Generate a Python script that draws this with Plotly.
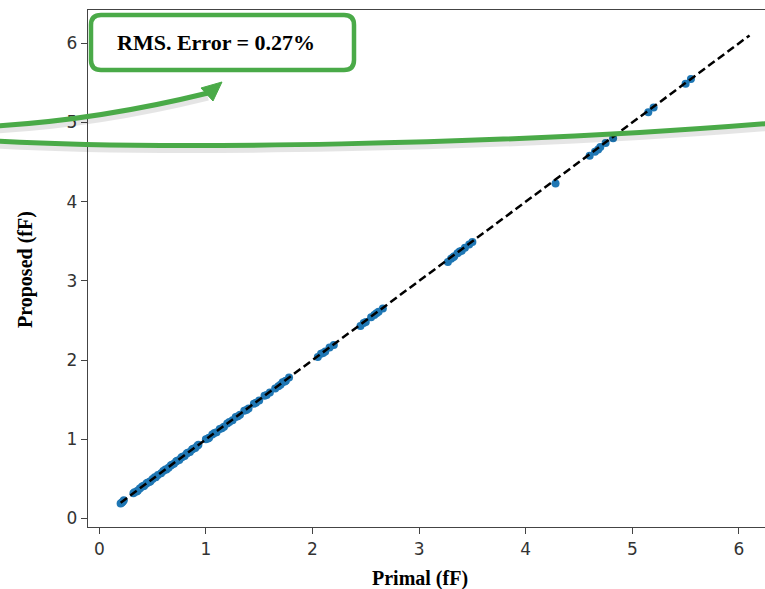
import plotly.graph_objects as go

# ---- data ----
primal = [0.20, 0.21, 0.22, 0.23, 0.32, 0.33, 0.35, 0.36, 0.38, 0.40, 0.41, 0.42,
          0.44, 0.45, 0.47, 0.48, 0.50, 0.52, 0.53, 0.55, 0.58, 0.60, 0.62, 0.63,
          0.65, 0.67, 0.68, 0.70, 0.72, 0.73, 0.75, 0.77, 0.78, 0.80, 0.82, 0.83,
          0.85, 0.87, 0.88, 0.90, 0.92, 0.93, 1.00, 1.02, 1.03, 1.06, 1.08, 1.10,
          1.13, 1.15, 1.17, 1.20, 1.22, 1.25, 1.28, 1.30, 1.32, 1.36, 1.38, 1.40,
          1.45, 1.47, 1.50, 1.55, 1.57, 1.60, 1.65, 1.68, 1.70, 1.72, 1.74, 1.75,
          1.78, 2.05, 2.08, 2.10, 2.12, 2.16, 2.20, 2.45, 2.48, 2.50, 2.55, 2.58,
          2.60, 2.62, 2.66, 3.27, 3.30, 3.32, 3.33, 3.36, 3.38, 3.40, 3.43, 3.47,
          3.50, 4.28, 4.60, 4.65, 4.68, 4.70, 4.75, 4.82, 5.15, 5.20, 5.50, 5.55]
proposed = [0.19, 0.20, 0.21, 0.23, 0.32, 0.33, 0.34, 0.35, 0.38, 0.40, 0.41, 0.41,
            0.44, 0.45, 0.46, 0.47, 0.50, 0.52, 0.52, 0.55, 0.57, 0.60, 0.62, 0.62,
            0.64, 0.67, 0.68, 0.69, 0.72, 0.73, 0.74, 0.77, 0.78, 0.79, 0.82, 0.83,
            0.84, 0.87, 0.88, 0.89, 0.92, 0.93, 1.00, 1.01, 1.02, 1.06, 1.08, 1.09,
            1.13, 1.14, 1.16, 1.20, 1.22, 1.24, 1.28, 1.29, 1.31, 1.36, 1.37, 1.39,
            1.45, 1.46, 1.49, 1.55, 1.56, 1.59, 1.64, 1.67, 1.69, 1.72, 1.73, 1.74,
            1.78, 2.04, 2.08, 2.09, 2.11, 2.16, 2.19, 2.43, 2.47, 2.48, 2.54, 2.57,
            2.59, 2.61, 2.65, 3.24, 3.28, 3.30, 3.31, 3.35, 3.37, 3.38, 3.42, 3.46,
            3.49, 4.23, 4.58, 4.63, 4.66, 4.69, 4.74, 4.80, 5.13, 5.19, 5.49, 5.55]
ref_x = [0.2, 6.1]
ref_y = [0.2, 6.1]
x_ticks = [0, 1, 2, 3, 4, 5, 6]
y_ticks = [0, 1, 2, 3, 4, 5, 6]
x_title = "Primal (fF)"
y_title = "Proposed (fF)"
note_text = "RMS. Error = 0.27%"

# the original figure is wider than the visible window; its right edge is cropped
W, H = 781, 589
L, R, T, B = 88, 781, 10, 527   # plot area in pixels

def P(px, py):
    return (px - L) / (R - L), (B - py) / (B - T)

def path(cmds):
    out = []
    for c in cmds:
        if isinstance(c, str):
            out.append(c)
        else:
            x, y = P(*c)
            out.append(f"{x:.5f},{y:.5f}")
    return " ".join(out)

fig = go.Figure()
fig.add_trace(go.Scatter(x=primal, y=proposed, mode="markers",
                         marker=dict(color="#1f77b4", size=8, line=dict(width=0)),
                         showlegend=False))
fig.add_trace(go.Scatter(x=ref_x, y=ref_y, mode="lines",
                         line=dict(color="black", width=2.5, dash="8px,4px"),
                         showlegend=False))

green = "#4aaa48"
shadow = "rgba(0,0,0,0.10)"
shapes = []

# shadow + big curve
big = [(-5, 141), (150, 150), (500, 146), (785, 122)]
def curve(pts, dy=0):
    p = [(x, y + dy) for x, y in pts]
    return path(["M", p[0], "C", p[1], p[2], p[3]])
shapes.append(dict(type="path", xref="paper", yref="paper", path=curve(big, 4),
                   line=dict(color=shadow, width=7)))
shapes.append(dict(type="path", xref="paper", yref="paper", path=curve(big),
                   line=dict(color=green, width=5)))

# arrow
arrow_pts = [(-5, 126), (98, 120), (208, 93)]
for dy, col, w in [(4, shadow, 7), (0, green, 5)]:
    p = [(x, y + dy) for x, y in arrow_pts]
    shapes.append(dict(type="path", xref="paper", yref="paper",
                       path=path(["M", p[0], "Q", p[1], p[2]]),
                       line=dict(color=col, width=w)))
shapes.append(dict(type="path", xref="paper", yref="paper",
                   path=path(["M", (222, 82), "L", (201, 88), "L", (213, 101), "Z"]),
                   fillcolor=green, line=dict(color=green, width=1)))

# rounded box
x0, x1, y0, y1, r = 91, 354, 15, 70, 10
box = path(["M", (x0 + r, y0), "L", (x1 - r, y0), "Q", (x1, y0), (x1, y0 + r),
            "L", (x1, y1 - r), "Q", (x1, y1), (x1 - r, y1),
            "L", (x0 + r, y1), "Q", (x0, y1), (x0, y1 - r),
            "L", (x0, y0 + r), "Q", (x0, y0), (x0 + r, y0), "Z"])
shapes.append(dict(type="path", xref="paper", yref="paper", path=box,
                   fillcolor="white", line=dict(color=green, width=4.5)))

tx, ty = P(216, 43)
ax_x, ax_y = P(420, 578)
ay_x, ay_y = P(25, 270)
annotations = [
    dict(text=f"<b>{note_text}</b>", x=tx, y=ty, xref="paper", yref="paper",
         showarrow=False, font=dict(family="Liberation Serif", size=22, color="black"),
         xanchor="center", yanchor="middle"),
    dict(text=f"<b>{x_title}</b>", x=ax_x, y=ax_y, xref="paper", yref="paper",
         showarrow=False, font=dict(family="Liberation Serif", size=20, color="black"),
         xanchor="center", yanchor="middle"),
    dict(text=f"<b>{y_title}</b>", x=ay_x, y=ay_y, xref="paper", yref="paper",
         showarrow=False, textangle=-90,
         font=dict(family="Liberation Serif", size=20, color="black"),
         xanchor="center", yanchor="middle"),
]

x_lo = (L - 99.3) / 106.6
x_hi = (R - 99.3) / 106.6
y_lo = (518.5 - B) / 79.2
y_hi = (518.5 - T) / 79.2

axis_common = dict(showgrid=False, zeroline=False, showline=True, linecolor="#444",
                   linewidth=1.3, ticks="outside", ticklen=6, tickwidth=1.2,
                   tickcolor="#444",
                   tickfont=dict(family="DejaVu Sans", size=17, color="#333"))
fig.update_layout(
    width=W, height=H,
    margin=dict(l=L, r=W - R, t=T, b=H - B),
    plot_bgcolor="white", paper_bgcolor="white",
    xaxis=dict(range=[x_lo, x_hi], tickvals=x_ticks, mirror=True, **axis_common),
    yaxis=dict(range=[y_lo, y_hi], tickvals=y_ticks, mirror=False, **axis_common),
    shapes=shapes, annotations=annotations,
)
fig.write_html("out.html", config={"displayModeBar": False},
               post_script="document.body.style.margin='0';document.body.style.padding='0';document.body.style.overflow='hidden';")
